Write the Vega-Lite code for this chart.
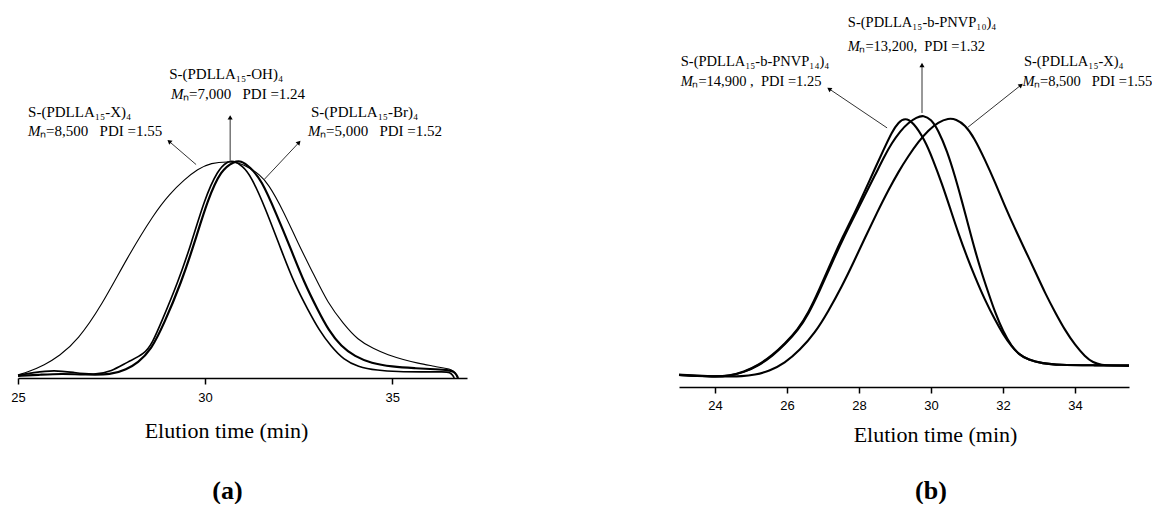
{
  "$schema": "https://vega.github.io/schema/vega-lite/v6.json",
  "padding": {"left": 10, "top": 10, "right": 0, "bottom": 0},
  "background": "white",
  "spacing": 207,
  "config": {
    "view": {"stroke": null},
    "axis": {
      "grid": false,
      "labelFont": "Liberation Sans",
      "labelFontSize": 13,
      "labelColor": "black",
      "tickSize": 6,
      "tickColor": "black",
      "tickWidth": 1.5,
      "domainColor": "black",
      "domainWidth": 1.5,
      "titleFont": "Liberation Serif",
      "titleFontSize": 22,
      "titleFontWeight": "normal",
      "titleColor": "black",
      "labelFlush": false
    },
    "title": {"font": "Liberation Serif", "fontSize": 26, "fontWeight": "bold", "color": "black", "orient": "bottom"}
  },
  "datasets": {
    "curvesA": [
      {"s": "X", "t": 25.0, "v": 0.014}, {"s": "X", "t": 25.3, "v": 0.03}, {"s": "X", "t": 25.7, "v": 0.06}, {"s": "X", "t": 26.1, "v": 0.1},
      {"s": "X", "t": 26.6, "v": 0.176}, {"s": "X", "t": 27.22, "v": 0.33}, {"s": "X", "t": 27.93, "v": 0.56}, {"s": "X", "t": 28.64, "v": 0.76},
      {"s": "X", "t": 29.05, "v": 0.85}, {"s": "X", "t": 29.45, "v": 0.917}, {"s": "X", "t": 29.8, "v": 0.965}, {"s": "X", "t": 30.16, "v": 0.994},
      {"s": "X", "t": 30.61, "v": 1.0}, {"s": "X", "t": 30.9, "v": 0.995}, {"s": "X", "t": 31.2, "v": 0.97}, {"s": "X", "t": 31.45, "v": 0.94},
      {"s": "X", "t": 31.68, "v": 0.9}, {"s": "X", "t": 32.1, "v": 0.77}, {"s": "X", "t": 32.48, "v": 0.623}, {"s": "X", "t": 32.9, "v": 0.48},
      {"s": "X", "t": 33.28, "v": 0.346}, {"s": "X", "t": 33.7, "v": 0.25}, {"s": "X", "t": 34.08, "v": 0.176}, {"s": "X", "t": 34.5, "v": 0.135},
      {"s": "X", "t": 34.89, "v": 0.106}, {"s": "X", "t": 35.3, "v": 0.085}, {"s": "X", "t": 35.69, "v": 0.068}, {"s": "X", "t": 36.1, "v": 0.055},
      {"s": "X", "t": 36.39, "v": 0.045}, {"s": "X", "t": 36.6, "v": 0.04}, {"s": "X", "t": 36.7, "v": 0.02}, {"s": "X", "t": 36.76, "v": 0.0},

      {"s": "OH", "t": 25.0, "v": 0.012}, {"s": "OH", "t": 25.4, "v": 0.025}, {"s": "OH", "t": 25.97, "v": 0.037}, {"s": "OH", "t": 26.5, "v": 0.025},
      {"s": "OH", "t": 27.04, "v": 0.014}, {"s": "OH", "t": 27.5, "v": 0.03}, {"s": "OH", "t": 27.93, "v": 0.075}, {"s": "OH", "t": 28.38, "v": 0.11},
      {"s": "OH", "t": 28.6, "v": 0.165}, {"s": "OH", "t": 28.82, "v": 0.253}, {"s": "OH", "t": 29.27, "v": 0.44}, {"s": "OH", "t": 29.63, "v": 0.62},
      {"s": "OH", "t": 29.98, "v": 0.824}, {"s": "OH", "t": 30.34, "v": 0.963}, {"s": "OH", "t": 30.6, "v": 1.0}, {"s": "OH", "t": 30.75, "v": 1.005},
      {"s": "OH", "t": 31.0, "v": 0.98}, {"s": "OH", "t": 31.23, "v": 0.932}, {"s": "OH", "t": 31.6, "v": 0.79}, {"s": "OH", "t": 32.03, "v": 0.593},
      {"s": "OH", "t": 32.4, "v": 0.43}, {"s": "OH", "t": 32.75, "v": 0.315}, {"s": "OH", "t": 33.05, "v": 0.22}, {"s": "OH", "t": 33.37, "v": 0.145},
      {"s": "OH", "t": 33.7, "v": 0.085}, {"s": "OH", "t": 34.08, "v": 0.052}, {"s": "OH", "t": 34.6, "v": 0.035}, {"s": "OH", "t": 35.15, "v": 0.029},
      {"s": "OH", "t": 35.8, "v": 0.028}, {"s": "OH", "t": 36.39, "v": 0.029}, {"s": "OH", "t": 36.55, "v": 0.026}, {"s": "OH", "t": 36.62, "v": 0.012}, {"s": "OH", "t": 36.66, "v": 0.0},

      {"s": "Br", "t": 25.0, "v": 0.01}, {"s": "Br", "t": 25.6, "v": 0.015}, {"s": "Br", "t": 26.15, "v": 0.02}, {"s": "Br", "t": 26.8, "v": 0.016},
      {"s": "Br", "t": 27.49, "v": 0.014}, {"s": "Br", "t": 27.9, "v": 0.04}, {"s": "Br", "t": 28.2, "v": 0.07}, {"s": "Br", "t": 28.56, "v": 0.13},
      {"s": "Br", "t": 28.91, "v": 0.253}, {"s": "Br", "t": 29.36, "v": 0.44}, {"s": "Br", "t": 29.71, "v": 0.62}, {"s": "Br", "t": 30.07, "v": 0.824},
      {"s": "Br", "t": 30.43, "v": 0.963}, {"s": "Br", "t": 30.78, "v": 1.0}, {"s": "Br", "t": 30.95, "v": 1.005}, {"s": "Br", "t": 31.2, "v": 0.975},
      {"s": "Br", "t": 31.5, "v": 0.917}, {"s": "Br", "t": 31.9, "v": 0.76}, {"s": "Br", "t": 32.3, "v": 0.593}, {"s": "Br", "t": 32.65, "v": 0.44},
      {"s": "Br", "t": 33.01, "v": 0.315}, {"s": "Br", "t": 33.3, "v": 0.22}, {"s": "Br", "t": 33.64, "v": 0.145}, {"s": "Br", "t": 34.0, "v": 0.1},
      {"s": "Br", "t": 34.44, "v": 0.068}, {"s": "Br", "t": 35.0, "v": 0.052}, {"s": "Br", "t": 35.59, "v": 0.045}, {"s": "Br", "t": 36.2, "v": 0.04},
      {"s": "Br", "t": 36.49, "v": 0.037}, {"s": "Br", "t": 36.65, "v": 0.03}, {"s": "Br", "t": 36.72, "v": 0.015}, {"s": "Br", "t": 36.76, "v": 0.0}
    ],
    "curvesB": [
      {"s": "P14", "t": 23.0, "v": 0.044}, {"s": "P14", "t": 23.5, "v": 0.04}, {"s": "P14", "t": 24.0, "v": 0.038}, {"s": "P14", "t": 24.4, "v": 0.041},
      {"s": "P14", "t": 24.8, "v": 0.055}, {"s": "P14", "t": 25.2, "v": 0.08}, {"s": "P14", "t": 25.6, "v": 0.118}, {"s": "P14", "t": 25.94, "v": 0.16},
      {"s": "P14", "t": 26.3, "v": 0.212}, {"s": "P14", "t": 26.6, "v": 0.275}, {"s": "P14", "t": 26.9, "v": 0.36}, {"s": "P14", "t": 27.24, "v": 0.465},
      {"s": "P14", "t": 27.55, "v": 0.555}, {"s": "P14", "t": 27.89, "v": 0.645}, {"s": "P14", "t": 28.15, "v": 0.72}, {"s": "P14", "t": 28.44, "v": 0.805},
      {"s": "P14", "t": 28.7, "v": 0.88}, {"s": "P14", "t": 28.91, "v": 0.94}, {"s": "P14", "t": 29.1, "v": 0.978}, {"s": "P14", "t": 29.28, "v": 0.993},
      {"s": "P14", "t": 29.5, "v": 0.978}, {"s": "P14", "t": 29.83, "v": 0.911}, {"s": "P14", "t": 30.05, "v": 0.84}, {"s": "P14", "t": 30.3, "v": 0.752},
      {"s": "P14", "t": 30.53, "v": 0.66}, {"s": "P14", "t": 30.76, "v": 0.567}, {"s": "P14", "t": 31.0, "v": 0.48}, {"s": "P14", "t": 31.22, "v": 0.407},
      {"s": "P14", "t": 31.5, "v": 0.32}, {"s": "P14", "t": 31.78, "v": 0.247}, {"s": "P14", "t": 32.0, "v": 0.195}, {"s": "P14", "t": 32.24, "v": 0.149},
      {"s": "P14", "t": 32.45, "v": 0.12}, {"s": "P14", "t": 32.7, "v": 0.1}, {"s": "P14", "t": 33.1, "v": 0.087}, {"s": "P14", "t": 33.54, "v": 0.081},
      {"s": "P14", "t": 34.5, "v": 0.08}, {"s": "P14", "t": 35.39, "v": 0.079}, {"s": "P14", "t": 35.5, "v": 0.079},

      {"s": "P10", "t": 23.0, "v": 0.046}, {"s": "P10", "t": 23.5, "v": 0.042}, {"s": "P10", "t": 24.0, "v": 0.038}, {"s": "P10", "t": 24.4, "v": 0.041},
      {"s": "P10", "t": 24.8, "v": 0.054}, {"s": "P10", "t": 25.2, "v": 0.078}, {"s": "P10", "t": 25.6, "v": 0.115}, {"s": "P10", "t": 25.94, "v": 0.157},
      {"s": "P10", "t": 26.3, "v": 0.208}, {"s": "P10", "t": 26.6, "v": 0.27}, {"s": "P10", "t": 26.9, "v": 0.353}, {"s": "P10", "t": 27.24, "v": 0.455},
      {"s": "P10", "t": 27.55, "v": 0.545}, {"s": "P10", "t": 27.89, "v": 0.635}, {"s": "P10", "t": 28.15, "v": 0.705}, {"s": "P10", "t": 28.44, "v": 0.78},
      {"s": "P10", "t": 28.7, "v": 0.85}, {"s": "P10", "t": 28.91, "v": 0.9}, {"s": "P10", "t": 29.15, "v": 0.945}, {"s": "P10", "t": 29.37, "v": 0.975},
      {"s": "P10", "t": 29.6, "v": 0.995}, {"s": "P10", "t": 29.79, "v": 1.003}, {"s": "P10", "t": 30.0, "v": 0.988}, {"s": "P10", "t": 30.2, "v": 0.948},
      {"s": "P10", "t": 30.45, "v": 0.87}, {"s": "P10", "t": 30.67, "v": 0.776}, {"s": "P10", "t": 30.85, "v": 0.69}, {"s": "P10", "t": 31.04, "v": 0.595},
      {"s": "P10", "t": 31.22, "v": 0.505}, {"s": "P10", "t": 31.41, "v": 0.42}, {"s": "P10", "t": 31.6, "v": 0.345}, {"s": "P10", "t": 31.78, "v": 0.275},
      {"s": "P10", "t": 32.0, "v": 0.205}, {"s": "P10", "t": 32.24, "v": 0.149}, {"s": "P10", "t": 32.45, "v": 0.12}, {"s": "P10", "t": 32.7, "v": 0.1},
      {"s": "P10", "t": 33.1, "v": 0.087}, {"s": "P10", "t": 33.54, "v": 0.081}, {"s": "P10", "t": 34.5, "v": 0.08}, {"s": "P10", "t": 35.5, "v": 0.079},

      {"s": "XB", "t": 23.0, "v": 0.044}, {"s": "XB", "t": 23.6, "v": 0.04}, {"s": "XB", "t": 24.36, "v": 0.039}, {"s": "XB", "t": 24.74, "v": 0.039},
      {"s": "XB", "t": 25.11, "v": 0.045}, {"s": "XB", "t": 25.5, "v": 0.058}, {"s": "XB", "t": 25.94, "v": 0.088}, {"s": "XB", "t": 26.35, "v": 0.135},
      {"s": "XB", "t": 26.78, "v": 0.2}, {"s": "XB", "t": 27.15, "v": 0.28}, {"s": "XB", "t": 27.52, "v": 0.37}, {"s": "XB", "t": 27.85, "v": 0.46},
      {"s": "XB", "t": 28.17, "v": 0.552}, {"s": "XB", "t": 28.5, "v": 0.643}, {"s": "XB", "t": 28.81, "v": 0.725}, {"s": "XB", "t": 29.1, "v": 0.795},
      {"s": "XB", "t": 29.37, "v": 0.852}, {"s": "XB", "t": 29.65, "v": 0.905}, {"s": "XB", "t": 29.93, "v": 0.948}, {"s": "XB", "t": 30.2, "v": 0.977},
      {"s": "XB", "t": 30.48, "v": 0.992}, {"s": "XB", "t": 30.7, "v": 0.988}, {"s": "XB", "t": 30.94, "v": 0.967}, {"s": "XB", "t": 31.2, "v": 0.92},
      {"s": "XB", "t": 31.5, "v": 0.838}, {"s": "XB", "t": 31.78, "v": 0.755}, {"s": "XB", "t": 32.06, "v": 0.665}, {"s": "XB", "t": 32.33, "v": 0.585},
      {"s": "XB", "t": 32.61, "v": 0.506}, {"s": "XB", "t": 32.9, "v": 0.425}, {"s": "XB", "t": 33.17, "v": 0.346}, {"s": "XB", "t": 33.45, "v": 0.275},
      {"s": "XB", "t": 33.72, "v": 0.21}, {"s": "XB", "t": 34.0, "v": 0.155}, {"s": "XB", "t": 34.28, "v": 0.112}, {"s": "XB", "t": 34.5, "v": 0.09},
      {"s": "XB", "t": 34.74, "v": 0.081}, {"s": "XB", "t": 35.0, "v": 0.079}, {"s": "XB", "t": 35.5, "v": 0.079}
    ],
    "arrowsA": [
      {"id": "X", "t": 29.76, "v": 0.986, "t2": 29.04, "v2": 1.093},
      {"id": "OH", "t": 30.67, "v": 1.0, "t2": 30.67, "v2": 1.204},
      {"id": "Br", "t": 31.58, "v": 0.917, "t2": 32.51, "v2": 1.088}
    ],
    "arrowsB": [
      {"id": "P14", "t": 28.78, "v": 0.956, "t2": 27.17, "v2": 1.1},
      {"id": "P10", "t": 29.75, "v": 1.011, "t2": 29.75, "v2": 1.188},
      {"id": "XB", "t": 31.03, "v": 0.959, "t2": 32.5, "v2": 1.114}
    ],
    "labelsA": [
      {"kind": "name", "t": 25.27, "v": 1.227, "text": "S-(PDLLA₁₅-X)₄"},
      {"kind": "mn", "t": 25.27, "v": 1.139, "text": "ₙ=8,500\u00a0\u00a0\u00a0PDI =1.55"},
      {"kind": "name", "t": 29.04, "v": 1.403, "text": "S-(PDLLA₁₅-OH)₄"},
      {"kind": "mn", "t": 29.09, "v": 1.31, "text": "ₙ=7,000\u00a0\u00a0\u00a0PDI =1.24"},
      {"kind": "name", "t": 32.83, "v": 1.227, "text": "S-(PDLLA₁₅-Br)₄"},
      {"kind": "mn", "t": 32.75, "v": 1.139, "text": "ₙ=5,000\u00a0\u00a0\u00a0PDI =1.52"}
    ],
    "labelsB": [
      {"kind": "name", "t": 27.69, "v": 1.343, "text": "S-(PDLLA₁₅-b-PNVP₁₀)₄"},
      {"kind": "mn", "t": 27.69, "v": 1.255, "text": "ₙ=13,200,\u00a0\u00a0PDI =1.32"},
      {"kind": "name", "t": 23.05, "v": 1.199, "text": "S-(PDLLA₁₅-b-PNVP₁₄)₄"},
      {"kind": "mn", "t": 23.05, "v": 1.125, "text": "ₙ=14,900 ,\u00a0\u00a0PDI =1.25"},
      {"kind": "name", "t": 32.58, "v": 1.199, "text": "S-(PDLLA₁₅-X)₄"},
      {"kind": "mn", "t": 32.54, "v": 1.125, "text": "ₙ=8,500\u00a0\u00a0\u00a0PDI =1.55"}
    ]
  },
  "hconcat": [
    {
      "width": 449,
      "height": 368,
      "title": {"text": "(a)", "dx": -15, "offset": 37},
      "encoding": {
        "x": {"field": "t", "type": "quantitative", "scale": {"domain": [25, 37], "nice": false, "zero": false},
              "axis": {"values": [25, 30, 35], "title": "Elution time (min)", "labelPadding": 7, "titlePadding": 16, "titleX": 208}},
        "y": {"field": "v", "type": "quantitative", "scale": {"domain": [0, 1.7], "nice": false}, "axis": null}
      },
      "layer": [
        {"data": {"name": "curvesA"},
         "mark": {"type": "line", "interpolate": "basis", "color": "black"},
         "encoding": {"detail": {"field": "s"},
                      "strokeWidth": {"field": "s", "type": "nominal", "scale": {"domain": ["X", "OH", "Br"], "range": [1.1, 2.2, 1.3]}, "legend": null}}},
        {"data": {"name": "arrowsA"}, "mark": {"type": "rule", "color": "#333", "strokeWidth": 1},
         "encoding": {"x2": {"field": "t2"}, "y2": {"field": "v2"}}},
        {"data": {"name": "arrowsA"}, "transform": [{"filter": "datum.id == 'X'"}],
         "mark": {"type": "point", "shape": "triangle-up", "filled": true, "color": "black", "size": 26, "angle": 310, "opacity": 1},
         "encoding": {"x": {"field": "t2", "type": "quantitative"}, "y": {"field": "v2", "type": "quantitative"}}},
        {"data": {"name": "arrowsA"}, "transform": [{"filter": "datum.id == 'OH'"}],
         "mark": {"type": "point", "shape": "triangle-up", "filled": true, "color": "black", "size": 26, "angle": 0, "opacity": 1},
         "encoding": {"x": {"field": "t2", "type": "quantitative"}, "y": {"field": "v2", "type": "quantitative"}}},
        {"data": {"name": "arrowsA"}, "transform": [{"filter": "datum.id == 'Br'"}],
         "mark": {"type": "point", "shape": "triangle-up", "filled": true, "color": "black", "size": 26, "angle": 43, "opacity": 1},
         "encoding": {"x": {"field": "t2", "type": "quantitative"}, "y": {"field": "v2", "type": "quantitative"}}},
        {"data": {"name": "labelsA"}, "transform": [{"filter": "datum.kind == 'name'"}],
         "mark": {"type": "text", "align": "left", "baseline": "middle", "font": "Liberation Serif", "fontSize": 15, "color": "black"},
         "encoding": {"text": {"field": "text"}}},
        {"data": {"name": "labelsA"}, "transform": [{"filter": "datum.kind == 'mn'"}],
         "mark": {"type": "text", "align": "left", "baseline": "middle", "font": "Liberation Serif", "fontSize": 15, "fontStyle": "italic", "color": "black"},
         "encoding": {"text": {"value": "M"}}},
        {"data": {"name": "labelsA"}, "transform": [{"filter": "datum.kind == 'mn'"}],
         "mark": {"type": "text", "align": "left", "baseline": "middle", "font": "Liberation Serif", "fontSize": 15, "color": "black", "dx": 12},
         "encoding": {"text": {"field": "text"}}}
      ]
    },
    {
      "width": 450,
      "height": 377,
      "title": {"text": "(b)", "dx": 27, "offset": 33},
      "encoding": {
        "x": {"field": "t", "type": "quantitative", "scale": {"domain": [23, 35.5], "nice": false, "zero": false},
              "axis": {"values": [24, 26, 28, 30, 32, 34], "title": "Elution time (min)", "labelPadding": 6, "titlePadding": 12, "titleX": 256}},
        "y": {"field": "v", "type": "quantitative", "scale": {"domain": [0, 1.391], "nice": false}, "axis": null}
      },
      "layer": [
        {"data": {"name": "curvesB"},
         "mark": {"type": "line", "interpolate": "basis", "color": "black", "strokeWidth": 2.1},
         "encoding": {"detail": {"field": "s"}}},
        {"data": {"name": "arrowsB"}, "mark": {"type": "rule", "color": "#333", "strokeWidth": 1},
         "encoding": {"x2": {"field": "t2"}, "y2": {"field": "v2"}}},
        {"data": {"name": "arrowsB"}, "transform": [{"filter": "datum.id == 'P14'"}],
         "mark": {"type": "point", "shape": "triangle-up", "filled": true, "color": "black", "size": 26, "angle": 304, "opacity": 1},
         "encoding": {"x": {"field": "t2", "type": "quantitative"}, "y": {"field": "v2", "type": "quantitative"}}},
        {"data": {"name": "arrowsB"}, "transform": [{"filter": "datum.id == 'P10'"}],
         "mark": {"type": "point", "shape": "triangle-up", "filled": true, "color": "black", "size": 26, "angle": 0, "opacity": 1},
         "encoding": {"x": {"field": "t2", "type": "quantitative"}, "y": {"field": "v2", "type": "quantitative"}}},
        {"data": {"name": "arrowsB"}, "transform": [{"filter": "datum.id == 'XB'"}],
         "mark": {"type": "point", "shape": "triangle-up", "filled": true, "color": "black", "size": 26, "angle": 52, "opacity": 1},
         "encoding": {"x": {"field": "t2", "type": "quantitative"}, "y": {"field": "v2", "type": "quantitative"}}},
        {"data": {"name": "labelsB"}, "transform": [{"filter": "datum.kind == 'name'"}],
         "mark": {"type": "text", "align": "left", "baseline": "middle", "font": "Liberation Serif", "fontSize": 14.5, "color": "black"},
         "encoding": {"text": {"field": "text"}}},
        {"data": {"name": "labelsB"}, "transform": [{"filter": "datum.kind == 'mn'"}],
         "mark": {"type": "text", "align": "left", "baseline": "middle", "font": "Liberation Serif", "fontSize": 14.5, "fontStyle": "italic", "color": "black"},
         "encoding": {"text": {"value": "M"}}},
        {"data": {"name": "labelsB"}, "transform": [{"filter": "datum.kind == 'mn'"}],
         "mark": {"type": "text", "align": "left", "baseline": "middle", "font": "Liberation Serif", "fontSize": 14.5, "color": "black", "dx": 11.6},
         "encoding": {"text": {"field": "text"}}}
      ]
    }
  ]
}
